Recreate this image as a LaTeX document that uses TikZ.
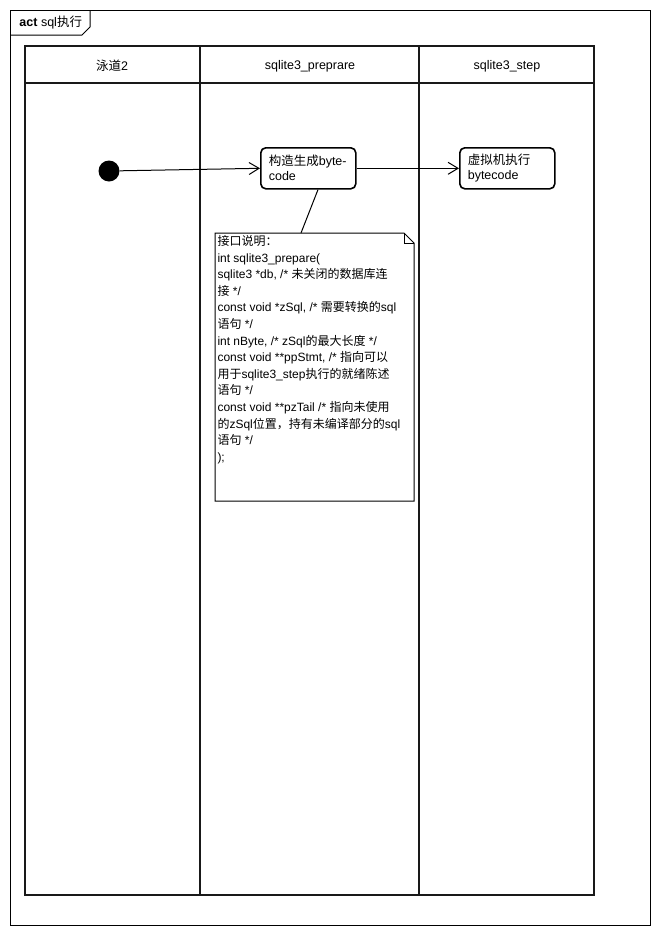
\documentclass[tikz,border=0pt]{standalone}
\usepackage{fontspec}
\setmainfont{Liberation Sans}
\newfontfamily\cjk{Noto Sans CJK SC}
\newcommand{\zh}[1]{{\cjk #1}}
\usetikzlibrary{arrows.meta}

\begin{document}
\begin{tikzpicture} [x=1pt, y=-1pt, line width=1pt,
                    every node/.style={inner sep=0pt, font=\fontsize{12.5}{15}\selectfont},
                    lane_style/.style={draw=black!90, line width=2pt},
                    action_style/.style={draw, rounded corners=5pt, line width=1.6pt, fill=white, align=left, anchor=north west, minimum width=95pt, minimum height=41pt, text width=79pt, inner xsep=8pt},
                    edge_style/.style={draw=black, -{Straight Barb[length=10pt,width=12pt]}}]
                    \useasboundingbox (0,0) rectangle (660,935);
                    % frame and title tab
                    \draw (10,10) rectangle (650,925);
                    \draw (10,35) -- (82,35) -- (90,27) -- (90,10);
                    \node[anchor=west] (title) at (19,23) {\textbf{act} sql\zh{执行}};
                    % swimlanes
                    \draw[lane_style] (25,46) rectangle (594,895);
                    \draw[lane_style] (25,83) -- (594,83);
                    \draw[lane_style] (200,46) -- (200,895);
                    \draw[lane_style] (419,46) -- (419,895);
                    \node (lane1) at (112,66) {\zh{泳道}2};
                    \node (lane2) at (310,66) {sqlite3\_preprare};
                    \node (lane3) at (507,66) {sqlite3\_step};
                    % nodes
                    \node[circle, fill=black, minimum size=21pt] (start) at (109,171) {};
                    \node[action_style] (build) at (260,147) {\zh{构造生成}byte-\\code};
                    \node[action_style] (vm) at (459,147) {\zh{虚拟机执行}\\bytecode};
                    \node[anchor=north west, minimum width=198pt, minimum height=267pt] (note) at (215,233) {};
                    \draw (note.north west) -- ([xshift=-10pt]note.north east) -- ([yshift=-10pt]note.north east) -- (note.south east) -- (note.south west) -- cycle;
                    \draw ([xshift=-10pt]note.north east) -- ([xshift=-10pt,yshift=-10pt]note.north east) -- ([yshift=-10pt]note.north east);
                    \node[anchor=north west, align=left, font=\fontsize{12}{16.6}\selectfont] (notetext) at (217,235) {\zh{接口说明：}\\
int sqlite3\_prepare(\\
sqlite3 *db, /* \zh{未关闭的数据库连}\\
\zh{接} */\\
const void *zSql, /* \zh{需要转换的}sql\\
\zh{语句} */\\
int nByte, /* zSql\zh{的最大长度} */\\
const void **ppStmt, /* \zh{指向可以}\\
\zh{用于}sqlite3\_step\zh{执行的就绪陈述}\\
\zh{语句} */\\
const void **pzTail /* \zh{指向未使用}\\
\zh{的}zSql\zh{位置，持有未编译部分的}sql\\
\zh{语句} */\\
);};
                    % edges
                    \draw[edge_style] (start) -- (build.west);
                    \draw[edge_style] (build.east) -- (vm.west);
                    \draw ([xshift=58pt]build.south west) -- ([xshift=86pt]note.north west);
                \end{tikzpicture}
\end{document}
